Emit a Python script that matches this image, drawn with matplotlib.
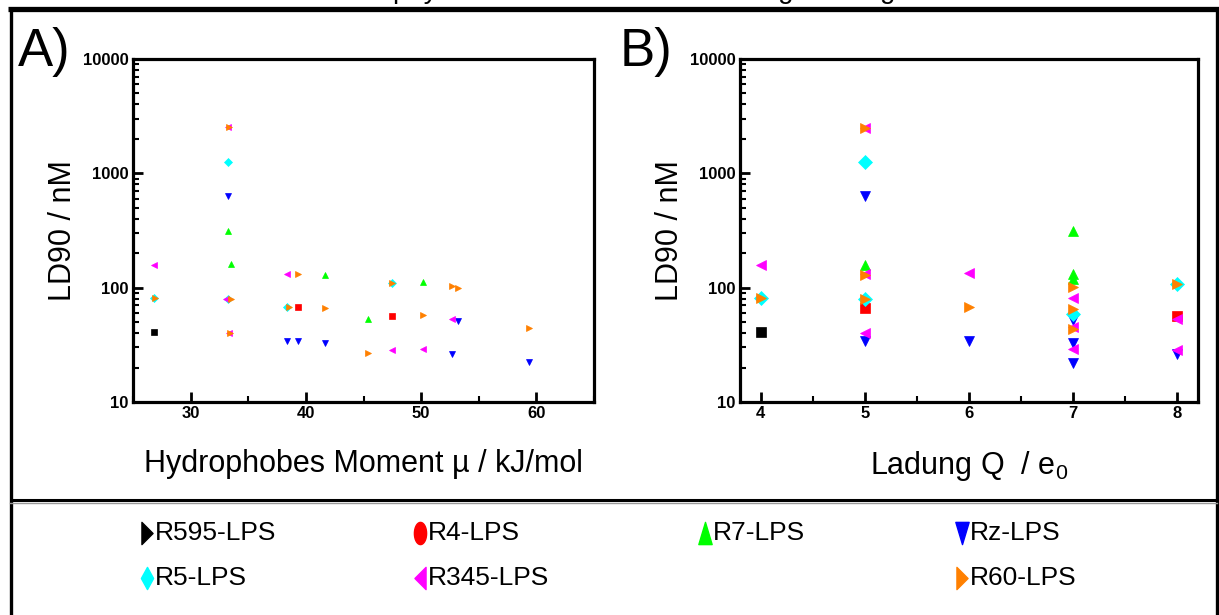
import numpy as np
import matplotlib
matplotlib.use('Agg')
import matplotlib.pyplot as plt
from matplotlib.lines import Line2D
from matplotlib.path import Path
from matplotlib.ticker import MultipleLocator, LogLocator, NullFormatter

plt.rcParams['font.family'] = ['Liberation Sans', 'DejaVu Sans']
plt.rcParams['mathtext.default'] = 'regular'

# series names and styles
names = ['R595-LPS', 'R4-LPS', 'R7-LPS', 'Rz-LPS', 'R5-LPS', 'R345-LPS', 'R60-LPS']
colors = ['#000000', '#ff0000', '#00ff00', '#0000ff', '#00ffff', '#ff00ff', '#ff8000']
data_markers = ['s', 's', '^', 'v', 'D', '<', '>']

# panel A: LD90 vs hydrophobic moment
mu_r595 = [26.8]
ld_r595_a = [41]
mu_r4 = [39.3, 47.5]
ld_r4_a = [68, 57]
mu_r7 = [33.2, 33.5, 41.7, 45.4, 50.2]
ld_r7_a = [315, 160, 129, 53, 113]
mu_rz = [33.2, 38.4, 39.3, 41.7, 52.7, 53.2, 59.4]
ld_rz_a = [635, 34, 34, 33, 26.3, 51, 22.5]
mu_r5 = [33.2, 26.8, 33.2, 38.4, 47.5]
ld_r5_a = [1265, 81, 80, 68, 110]
mu_r345 = [33.2, 26.8, 33.1, 33.3, 38.4, 47.5, 50.2, 52.7]
ld_r345_a = [2560, 158, 80, 40, 132, 28.5, 29, 53]
mu_r60 = [33.3, 26.9, 33.5, 33.4, 39.3, 38.5, 41.7, 45.4, 47.5, 50.2, 52.7, 53.2, 59.4]
ld_r60_a = [2560, 81, 80, 40, 132, 68, 66, 26.7, 110, 57.5, 103, 100, 44.7]

# panel B: LD90 vs charge
q_r595 = [4]
ld_r595_b = [41]
q_r4 = [5, 8]
ld_r4_b = [67, 56]
q_r7 = [5, 7, 7, 7]
ld_r7_b = [158, 313, 133, 120]
q_rz = [5, 5, 6, 7, 7, 7, 8]
ld_rz_b = [635, 34, 34, 52, 33, 22, 26.3]
q_r5 = [4, 5, 5, 7, 8]
ld_r5_b = [81, 1265, 80, 59, 108]
q_r345 = [4, 5, 5, 5, 6, 7, 7, 7, 8, 8]
ld_r345_b = [158, 2500, 132, 40, 134, 81, 45.5, 29, 53, 28.5]
q_r60 = [4, 5, 5, 5, 6, 7, 7, 7, 8]
ld_r60_b = [81, 2500, 130, 80, 68, 101, 65, 43.4, 107]

panel_a = [(mu_r595, ld_r595_a), (mu_r4, ld_r4_a), (mu_r7, ld_r7_a), (mu_rz, ld_rz_a),
           (mu_r5, ld_r5_a), (mu_r345, ld_r345_a), (mu_r60, ld_r60_a)]
panel_b = [(q_r595, ld_r595_b), (q_r4, ld_r4_b), (q_r7, ld_r7_b), (q_rz, ld_rz_b),
           (q_r5, ld_r5_b), (q_r345, ld_r345_b), (q_r60, ld_r60_b)]

W, H = 1219, 615
fig = plt.figure(figsize=(W / 100, H / 100), dpi=100)


def fx(px):
    return px / W


def fy(py):
    return 1 - py / H


def style_axes(ax, major, minor, xlim):
    ax.set_yscale('log')
    ax.set_ylim(10, 10000)
    ax.set_xlim(*xlim)
    ax.set_yticks([10, 100, 1000, 10000])
    ax.set_yticklabels(['10', '100', '1000', '10000'])
    ax.yaxis.set_minor_locator(LogLocator(base=10, subs=np.arange(2, 10)))
    ax.yaxis.set_minor_formatter(NullFormatter())
    ax.xaxis.set_major_locator(MultipleLocator(major))
    ax.xaxis.set_minor_locator(MultipleLocator(minor))
    for s in ax.spines.values():
        s.set_linewidth(2.3)
    ax.tick_params(which='major', direction='in', length=7, width=2,
                   top=False, right=False, labelsize=12, pad=3)
    ax.tick_params(which='minor', direction='in', length=4, width=1.5,
                   top=False, right=False)
    for lab in ax.get_xticklabels() + ax.get_yticklabels():
        lab.set_fontweight('bold')
    ax.set_ylabel('LD90 / nM', fontsize=22, labelpad=4)


axA = fig.add_axes([fx(133), fy(402), fx(594 - 133), (402 - 59) / H])
axB = fig.add_axes([fx(740), fy(402), fx(1198 - 740), (402 - 59) / H])

for (xs, ys), c, m in zip(panel_a, colors, data_markers):
    axA.plot(xs, ys, linestyle='none', marker=m, ms=4.5, color=c, mec=c, mew=0.5)
for (xs, ys), c, m in zip(panel_b, colors, data_markers):
    axB.plot(xs, ys, linestyle='none', marker=m, ms=7, color=c, mec=c, mew=0.5)

style_axes(axA, 10, 5, (25, 65))
style_axes(axB, 1, 0.5, (3.8, 8.2))
axA.set_xlabel('Hydrophobes Moment \u00b5 / kJ/mol', fontsize=22, labelpad=20)
axB.set_xlabel('Ladung Q  / e$_0$', fontsize=22, labelpad=20)

fig.text(fx(18), fy(27), 'A)', fontsize=38, va='top', ha='left')
fig.text(fx(620), fy(27), 'B)', fontsize=38, va='top', ha='left')

# heading of the page, cut off at the top edge as in the original
fig.text(fx(393), 1 + 1.5 / H, 'physikalische Daten und Ladung im Vergleich',
         fontsize=20, ha='left', va='baseline')

# frame and separator
frame = dict(transform=fig.transFigure, color='black', solid_capstyle='butt')
fig.add_artist(Line2D([fx(8), fx(1219)], [fy(8.5), fy(8.5)], lw=3.8, **frame))
fig.add_artist(Line2D([fx(10.5), fx(10.5)], [fy(7), 0], lw=2.4, **frame))
fig.add_artist(Line2D([fx(1216.5), fx(1216.5)], [fy(7), 0], lw=2.4, **frame))
fig.add_artist(Line2D([fx(10), fx(1217)], [fy(500), fy(500)], lw=2.2, **frame))
fig.add_artist(Line2D([fx(10), fx(1217)], [fy(503), fy(503)], lw=1.0,
                      transform=fig.transFigure, color='#999999'))


# tall legend markers
def tall(verts):
    v = np.array(verts, dtype=float)
    codes = [Path.MOVETO] + [Path.LINETO] * (len(v) - 1) + [Path.CLOSEPOLY]
    return Path(np.vstack([v, v[:1]]), codes)


t = np.linspace(0, 2 * np.pi, 40)
legend_markers = [
    tall([(-0.5, -1), (0.5, 0), (-0.5, 1)]),
    tall(np.column_stack([0.55 * np.cos(t), np.sin(t)])),
    tall([(-0.6, -1), (0.6, -1), (0, 1)]),
    tall([(-0.6, 1), (0.6, 1), (0, -1)]),
    tall([(0, -1), (0.55, 0), (0, 1), (-0.55, 0)]),
    tall([(0.5, -1), (-0.5, 0), (0.5, 1)]),
    tall([(-0.5, -1), (0.5, 0), (-0.5, 1)]),
]
col_x = [147, 420, 705, 962]
row_y = [533, 578]
slots = [(0, 0), (1, 0), (2, 0), (3, 0), (0, 1), (1, 1), (3, 1)]
for name, c, mk, (ci, ri) in zip(names, colors, legend_markers, slots):
    fig.add_artist(Line2D([fx(col_x[ci])], [fy(row_y[ri])], marker=mk, ms=16,
                          color=c, mec=c, linestyle='none', transform=fig.transFigure))
    fig.text(fx(col_x[ci] + 8), fy(row_y[ri]), name, fontsize=19, ha='left', va='center')

fig.savefig('out.png', dpi=100)
